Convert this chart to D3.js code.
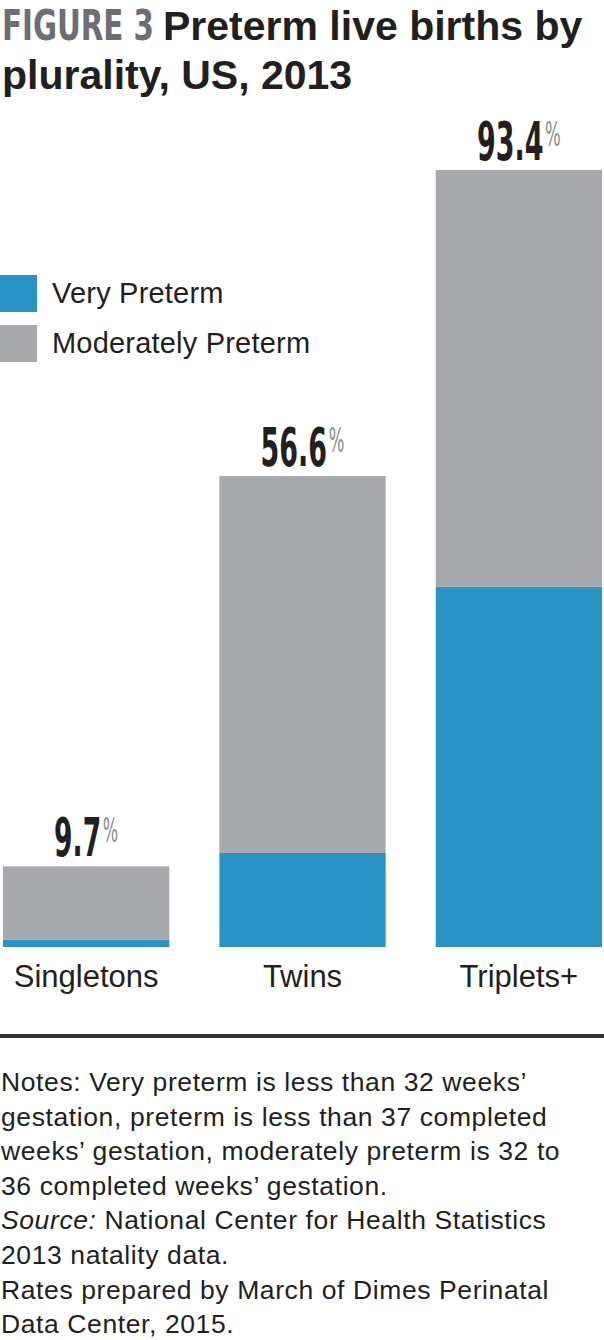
<!DOCTYPE html>
<html>
<head>
<meta charset="utf-8">
<script src="https://cdn.jsdelivr.net/npm/d3@7"></script>
<style>
  body { margin: 0; background: #fff; }
  svg { display: block; }
  text { font-family: "Liberation Sans", Arial, sans-serif; fill: #231f20; }
  .cond { font-family: "Liberation Sans Narrow", "DejaVu Sans Condensed", "Liberation Sans", sans-serif; }
</style>
</head>
<body>
<div id="chart"></div>
<script>
// data
const categories = ["Singletons", "Twins", "Triplets+"];
const veryPreterm = [0.9, 11.3, 43.3];
const moderatelyPreterm = [8.8, 45.3, 50.1];
const totals = ["9.7", "56.6", "93.4"];
const seriesNames = ["Very Preterm", "Moderately Preterm"];
const colors = ["#2a93c6", "#a7a9ac"];
const notes = [
  "Notes: Very preterm is less than 32 weeks\u2019",
  "gestation, preterm is less than 37 completed",
  "weeks\u2019 gestation, moderately preterm is 32 to",
  "36 completed weeks\u2019 gestation.",
  "Source:| National Center for Health Statistics",
  "2013 natality data.",
  "Rates prepared by March of Dimes Perinatal",
  "Data Center, 2015."
];

const W = 604, H = 1340;

let svg = d3.select("#chart")
  .append("svg")
  .attr("width", W)
  .attr("height", H);

// squeeze a condensed text to a wanted width (the reference face is very narrow)
function squeeze(sel, wanted, tx, ty) {
  const natural = sel.node().getComputedTextLength();
  sel.attr("transform", "translate(" + tx + "," + ty + ") scale(" + (wanted / natural) + ",1)");
}

// title
const fig = svg.append("text")
  .attr("class", "cond")
  .style("font-size", "43px").style("font-weight", "bold").style("fill", "#6d6e71")
  .text("FIGURE 3");
squeeze(fig, 152, 2, 40);

svg.append("text")
  .attr("x", 163).attr("y", 40)
  .style("font-size", "41px").style("font-weight", "bold")
  .text("Preterm live births by");

svg.append("text")
  .attr("x", 2).attr("y", 89)
  .style("font-size", "41px").style("font-weight", "bold")
  .text("plurality, US, 2013");

// scales
const x = d3.scaleBand()
  .domain(categories)
  .range([3, 602])
  .paddingInner(0.2315)
  .paddingOuter(0);

const y = d3.scaleLinear()
  .domain([0, 100])
  .range([947, 115]);

const rows = categories.map((c, i) => ({
  cat: c,
  "Very Preterm": veryPreterm[i],
  "Moderately Preterm": moderatelyPreterm[i]
}));

const stacked = d3.stack().keys(seriesNames)(rows);

svg.append("g")
  .selectAll("g")
  .data(stacked)
  .enter()
  .append("g")
  .attr("fill", (d, i) => colors[i])
  .selectAll("rect")
  .data(d => d)
  .enter()
  .append("rect")
  .attr("x", d => x(d.data.cat))
  .attr("width", x.bandwidth())
  .attr("y", d => y(d[1]))
  .attr("height", d => y(d[0]) - y(d[1]));

// total labels: condensed number + small grey % in one text
categories.forEach((c, i) => {
  const top = y(veryPreterm[i] + moderatelyPreterm[i]);
  const base = top - 10;
  const digits = totals[i].replace(".", "").length;
  const numW = digits * 19.5 + 8;
  const cx = x(c) + x.bandwidth() / 2;

  const t = svg.append("text").attr("class", "cond");
  const num = t.append("tspan")
    .style("font-size", "54px").style("font-weight", "bold")
    .text(totals[i]);
  t.append("tspan")
    .attr("dx", 3).attr("dy", -14)
    .style("font-size", "33px").style("fill", "#8a8c8e")
    .text("%");

  const sx = numW / num.node().getComputedTextLength();
  const total = (t.node().getComputedTextLength() + 3) * sx;
  t.attr("transform", "translate(" + (cx - total / 2) + "," + base + ") scale(" + sx + ",1)");
});

// category axis
const xAxis = svg.append("g")
  .attr("transform", "translate(0,947)")
  .call(d3.axisBottom(x).tickSize(0));

xAxis.select(".domain").remove();
xAxis.selectAll("text")
  .attr("y", 40).attr("dy", 0)
  .style("font-family", "'Liberation Sans', Arial, sans-serif")
  .style("font-size", "31px")
  .style("fill", "#231f20");

// legend
const legend = svg.append("g")
  .selectAll("g")
  .data(seriesNames)
  .enter()
  .append("g")
  .attr("transform", (d, i) => "translate(0," + (275 + i * 50) + ")");

legend.append("rect")
  .attr("width", 37).attr("height", 37)
  .attr("fill", (d, i) => colors[i]);

legend.append("text")
  .attr("x", 52).attr("y", 28)
  .style("font-size", "29px")
  .style("letter-spacing", "0.2px")
  .text(d => d);

// rule
svg.append("rect")
  .attr("x", 0).attr("y", 1034)
  .attr("width", W).attr("height", 4)
  .attr("fill", "#333");

// notes
const noteText = svg.append("g");
notes.forEach((line, i) => {
  const t = noteText.append("text")
    .attr("x", 1).attr("y", 1091 + i * 34.6)
    .style("font-size", "26.5px")
    .style("letter-spacing", "0.6px");
  if (line.indexOf("|") > -1) {
    const parts = line.split("|");
    t.append("tspan").style("font-style", "italic").text(parts[0]);
    t.append("tspan").text(parts[1]);
  } else {
    t.text(line);
  }
});
</script>
</body>
</html>
